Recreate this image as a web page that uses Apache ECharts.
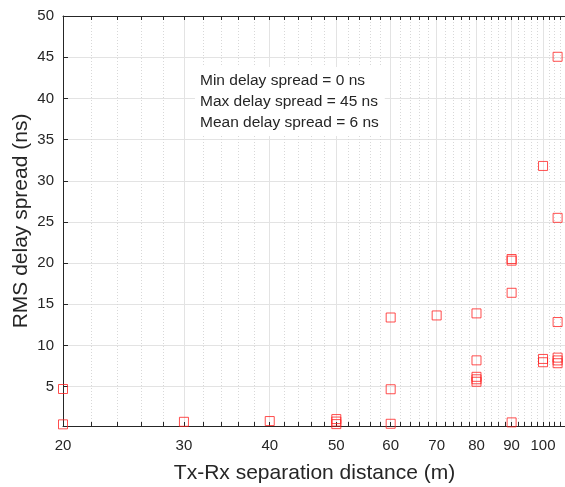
<!DOCTYPE html>
<html><head><meta charset="utf-8">
<script src="https://cdn.jsdelivr.net/npm/echarts@6/dist/echarts.min.js"></script>
<style>html,body{margin:0;padding:0;background:#fff}#c{width:565px;height:487px}</style>
</head><body><div id="c"></div>
<script>
// Tick labels
const xTickLabels = [20, 30, 40, 50, 60, 70, 80, 90, 100];
const xMinorTicks = [22, 24, 26, 28, 32, 34, 36, 38, 42, 44, 46, 48, 52, 54, 56, 58,
  62, 64, 66, 68, 72, 74, 76, 78, 82, 84, 86, 88, 92, 94, 96, 98, 102, 104, 106];
const yTickLabels = [5, 10, 15, 20, 25, 30, 35, 40, 45, 50];

// Measured RMS delay spread (ns) grouped by Tx-Rx distance (m)
const distances = [20, 30, 40, 50, 60, 70, 80, 90, 100, 105];
const delaysAt20 = [4.72, 0.43];
const delaysAt30 = [0.74];
const delaysAt40 = [0.83];
const delaysAt50 = [1.07, 0.77, 0.46];
const delaysAt60 = [13.4, 4.69, 0.5];
const delaysAt70 = [13.65];
const delaysAt80 = [13.9, 8.2, 6.2, 5.9, 5.6];
const delaysAt90 = [20.5, 20.3, 16.4, 0.67];
const delaysAt100 = [31.8, 8.37, 7.97];
const delaysAt105 = [45.05, 25.5, 12.85, 8.53, 8.19, 7.85];
const delayGroups = [delaysAt20, delaysAt30, delaysAt40, delaysAt50, delaysAt60,
  delaysAt70, delaysAt80, delaysAt90, delaysAt100, delaysAt105];

const annotationLines = ['Min delay spread = 0 ns', 'Max delay spread = 45 ns', 'Mean delay spread = 6 ns'];

const points = [];
distances.forEach((d, i) => delayGroups[i].forEach(v => points.push([d, v])));

const allXTicks = xTickLabels.concat(xMinorTicks).sort((a, b) => a - b);
const FONT = 'Liberation Sans, Arial, Helvetica, sans-serif';
const AX = '#262626';
const X_MIN = 20, X_MAX = 108;

const chart = echarts.init(document.getElementById('c'), null, {renderer: 'canvas'});
chart.setOption({
  animation: false,
  backgroundColor: '#fff',
  grid: {left: 63, top: 16, width: 503, height: 410, containLabel: false, outerBoundsMode: 'none'},
  xAxis: [
    {
      type: 'log', logBase: 10, min: X_MIN, max: X_MAX, position: 'bottom',
      name: 'Tx-Rx separation distance (m)', nameLocation: 'middle', nameGap: 37,
      nameTextStyle: {fontSize: 21, color: AX, fontFamily: FONT},
      axisLine: {show: true, lineStyle: {color: AX, width: 1}},
      axisTick: {show: true, inside: true, length: 4, customValues: allXTicks, lineStyle: {color: AX}},
      axisLabel: {show: true, customValues: xTickLabels, fontSize: 15, color: AX, fontFamily: FONT, margin: 12},
      splitLine: {show: false}
    },
    {
      type: 'log', logBase: 10, min: X_MIN, max: X_MAX, position: 'top',
      axisLine: {show: true, lineStyle: {color: AX, width: 1}},
      axisTick: {show: true, inside: true, length: 4, customValues: allXTicks, lineStyle: {color: AX}},
      axisLabel: {show: false},
      splitLine: {show: true, lineStyle: {color: '#d8d8d8', width: 1, type: [1, 2]}}
    },
    {
      type: 'log', logBase: 10, min: X_MIN, max: X_MAX, position: 'bottom',
      axisLine: {show: false},
      axisTick: {show: false, customValues: xTickLabels},
      axisLabel: {show: false},
      splitLine: {show: true, lineStyle: {color: '#e3e3e3', width: 1, type: 'solid'}}
    }
  ],
  yAxis: [{
    type: 'value', min: 0.23, max: 50,
    name: 'RMS delay spread (ns)', nameLocation: 'middle', nameGap: 31, nameMoveOverlap: false,
    nameTextStyle: {fontSize: 21, color: AX, fontFamily: FONT},
    axisLine: {show: true, lineStyle: {color: AX, width: 1}},
    axisTick: {show: true, inside: true, length: 5, customValues: yTickLabels, lineStyle: {color: AX}},
    axisLabel: {customValues: yTickLabels, fontSize: 15, color: AX, fontFamily: FONT, margin: 9},
    splitLine: {show: true, lineStyle: {color: '#e3e3e3', width: 1}}
  }],
  series: [{
    type: 'scatter', xAxisIndex: 0, yAxisIndex: 0,
    symbol: 'rect', symbolSize: 9,
    itemStyle: {color: 'rgba(0,0,0,0)', borderColor: '#ff2020', borderWidth: 1},
    data: points, z: 5
  }],
  graphic: [{
    type: 'text', left: 195, top: 67, z: 10,
    style: {
      text: annotationLines.join('\n'), fontSize: 15.5, lineHeight: 21, fill: AX, fontFamily: FONT,
      backgroundColor: '#fff', padding: [3, 6, 3, 5]
    }
  }]
});
</script></body></html>
